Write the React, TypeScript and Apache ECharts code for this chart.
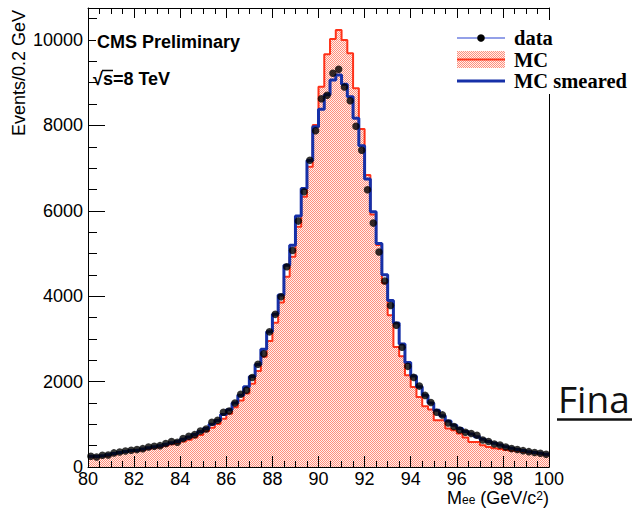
import React, { useEffect, useRef } from "react";
import * as echarts from "echarts";

// Histogram binning (GeV)
const X_MIN = 80;
const X_MAX = 100;
const BIN_WIDTH = 0.25;
const xTickStep = 2;
const yMax = 10750;
const yMajorStep = 2000;
const yMinorStep = 500;

// Data counts per bin (80 bins, 80..100 GeV)
const dataCounts = [
  251, 234, 274, 280, 330, 350, 376, 391, 407, 430,
  469, 485, 500, 548, 595, 579, 665, 719, 758, 844,
  891, 1050, 1094, 1282, 1313, 1500, 1704, 1800, 2095, 2407,
  2650, 3165, 3575, 3985, 4688, 5070, 5759, 6446, 7182, 7876,
  8626, 8706, 9221, 9315, 8900, 8579, 7979, 7420, 6493, 5712,
  5036, 4357, 3782, 3321, 2803, 2357, 2099, 1895, 1677, 1509,
  1282, 1220, 1031, 950, 868, 813, 783, 743, 634, 598,
  537, 517, 469, 431, 408, 383, 360, 340, 321, 298,
];

// MC (unsmeared) counts per bin
const mcCounts = [
  240, 235, 255, 270, 300, 325, 350, 370, 385, 400,
  425, 450, 470, 500, 530, 560, 600, 640, 690, 750,
  840, 920, 1010, 1130, 1250, 1400, 1560, 1720, 1950, 2250,
  2580, 2950, 3380, 3850, 4454, 4922, 5626, 6329, 7033, 8010,
  8907, 9667, 10025, 10236, 10002, 9690, 8870, 7916, 6838, 5916,
  5197, 4306, 3556, 2813, 2595, 2150, 1875, 1641, 1423, 1345,
  1095, 1095, 900, 860, 783, 690, 586, 586, 509, 469,
  440, 420, 400, 380, 365, 350, 335, 320, 305, 290,
];

// MC smeared counts per bin
const mcSmearedCounts = [
  250, 245, 265, 285, 315, 340, 365, 385, 400, 420,
  450, 475, 500, 535, 570, 600, 650, 700, 760, 830,
  900, 1000, 1090, 1230, 1340, 1500, 1680, 1880, 2120, 2400,
  2760, 3170, 3580, 4030, 4728, 5196, 5876, 6525, 7180, 7970,
  8378, 8720, 9065, 9182, 8963, 8673, 8166, 7524, 6744, 5977,
  5236, 4500, 3900, 3370, 2880, 2450, 2130, 1880, 1680, 1500,
  1330, 1200, 1080, 980, 900, 830, 770, 710, 650, 600,
  555, 515, 475, 440, 410, 385, 360, 340, 320, 300,
];

const legendLabels = ["data", "MC", "MC smeared"];
const yAxisTitle = "Events/0.2 GeV";

const RED = "#ff3219";
const BLUE = "#1630a8";
const FONT = "'Liberation Sans', Arial, Helvetica, sans-serif";
const SERIF = "'Liberation Serif', 'Times New Roman', serif";

function edgeSteps(counts: number[]): number[][] {
  const pts = counts.map((v, i) => [X_MIN + i * BIN_WIDTH, v]);
  pts.push([X_MAX, counts[counts.length - 1]]);
  return pts;
}

function centers(counts: number[]): number[][] {
  return counts.map((v, i) => [X_MIN + (i + 0.5) * BIN_WIDTH, v]);
}

function makeHatch(): any {
  try {
    const c = document.createElement("canvas");
    c.width = 4;
    c.height = 4;
    const ctx = c.getContext("2d");
    if (!ctx) return "#fbc2b7";
    ctx.fillStyle = "#fff0ec";
    ctx.fillRect(0, 0, 4, 4);
    ctx.fillStyle = "#ff8e7c";
    for (let y = 0; y < 4; y++)
      for (let x = 0; x < 4; x++) if ((x + y) % 2 === 0) ctx.fillRect(x, y, 1, 1);
    return { image: c.toDataURL(), repeat: "repeat", imageWidth: 4, imageHeight: 4 };
  } catch (e) {
    return "#fbc2b7";
  }
}

export default function App() {
  const ref = useRef<HTMLDivElement>(null);
  useEffect(() => {
    if (!ref.current) return;
    const chart = echarts.init(ref.current, undefined, { renderer: "svg" });
    const hatch = makeHatch();
    const axisCommon = {
      min: X_MIN,
      max: X_MAX,
      interval: xTickStep,
      type: "value",
      z: 5,
      splitLine: { show: false },
      minorSplitLine: { show: false },
      axisLine: { show: true, onZero: false, lineStyle: { color: "#000", width: 1 } },
    };
    const option: any = {
      animation: false,
      grid: { left: 88, right: 83, top: 8, bottom: 41, containLabel: false },
      xAxis: [
        {
          ...axisCommon,
          position: "bottom",
          axisTick: { show: true, inside: true, length: 11, lineStyle: { color: "#000" } },
          minorTick: { show: true, splitNumber: 4, length: 6, lineStyle: { color: "#000" } },
          axisLabel: { show: true, fontSize: 18, lineHeight: 14, fontFamily: FONT, color: "#000", margin: 5, formatter: (v: number) => String(v) },
        },
        {
          ...axisCommon,
          position: "top",
          axisTick: { show: true, inside: true, length: 10, lineStyle: { color: "#000" } },
          minorTick: { show: true, splitNumber: 4, length: 6, lineStyle: { color: "#000" } },
          axisLabel: { show: false },
        },
      ],
      yAxis: [
        {
          type: "value",
          position: "left",
          min: 0,
          max: yMax,
          interval: yMajorStep,
          z: 5,
          splitLine: { show: false },
          axisLine: { show: true, onZero: false, lineStyle: { color: "#000", width: 1 } },
          axisTick: { show: true, inside: true, length: 17, lineStyle: { color: "#000" } },
          axisLabel: {
            show: true,
            fontSize: 18,
            lineHeight: 12,
            fontFamily: FONT,
            color: "#000",
            margin: 5,
            showMaxLabel: false,
            formatter: (v: number) => String(v),
          },
        },
        {
          type: "value",
          position: "left",
          min: 0,
          max: yMax,
          interval: yMinorStep,
          z: 5,
          splitLine: { show: false },
          axisLine: { show: false, onZero: false },
          axisTick: { show: true, inside: true, length: 9, lineStyle: { color: "#000" } },
          axisLabel: { show: false },
        },
        {
          type: "value",
          position: "right",
          min: 0,
          max: yMax,
          z: 5,
          splitLine: { show: false },
          axisLine: { show: true, onZero: false, lineStyle: { color: "#000", width: 1 } },
          axisTick: { show: false },
          axisLabel: { show: false },
        },
      ],
      series: [
        {
          name: legendLabels[1],
          type: "line",
          step: "end",
          data: edgeSteps(mcCounts),
          symbol: "none",
          z: 2,
          lineStyle: { color: RED, width: 2 },
          areaStyle: { color: hatch, opacity: 1 },
        },
        {
          name: legendLabels[2],
          type: "line",
          step: "end",
          data: edgeSteps(mcSmearedCounts),
          symbol: "none",
          z: 3,
          lineStyle: { color: BLUE, width: 3 },
        },
        {
          name: legendLabels[0],
          type: "scatter",
          data: centers(dataCounts),
          symbol: "circle",
          symbolSize: 7.5,
          z: 4,
          itemStyle: { color: "#000" },
        },
      ],
      graphic: [
        // legend box covering the right frame line
        { type: "rect", z: 100, shape: { x: 543, y: 20, width: 12, height: 74 }, style: { fill: "#fff" } },
        { type: "line", z: 101, shape: { x1: 457, y1: 38, x2: 505, y2: 38 }, style: { stroke: "#6f80e0", lineWidth: 1.5 } },
        { type: "circle", z: 102, shape: { cx: 481, cy: 38, r: 3.8 }, style: { fill: "#000" } },
        { type: "rect", z: 101, shape: { x: 457, y: 51, width: 48, height: 17 }, style: { fill: hatch } },
        { type: "line", z: 102, shape: { x1: 457, y1: 59.5, x2: 505, y2: 59.5 }, style: { stroke: RED, lineWidth: 2 } },
        { type: "line", z: 101, shape: { x1: 457, y1: 81, x2: 505, y2: 81 }, style: { stroke: BLUE, lineWidth: 3 } },
        ...legendLabels.map((t, i) => ({
          type: "text",
          z: 102,
          x: 514,
          y: [38, 60, 81][i],
          style: {
            text: t,
            fontFamily: SERIF,
            fontWeight: "bold",
            fontSize: 20.5,
            lineHeight: 19,
            fill: "#000",
            align: "left",
            verticalAlign: "middle",
            textAlign: "left",
            textVerticalAlign: "middle",
          },
        })),
        {
          type: "text",
          z: 102,
          x: 96,
          y: 42,
          style: {
            text: "CMS Preliminary",
            fontFamily: FONT,
            fontWeight: "bold",
            fontSize: 18,
            fill: "#000",
            backgroundColor: "#fff",
            padding: [1, 1, 1, 1],
            align: "left",
            verticalAlign: "middle",
            textAlign: "left",
            textVerticalAlign: "middle",
          },
        },
        {
          type: "text",
          z: 102,
          x: 93,
          y: 79,
          style: { text: "√s=8 TeV", fontFamily: FONT, fontWeight: "bold", fontSize: 18, fill: "#000", align: "left", verticalAlign: "middle", textAlign: "left", textVerticalAlign: "middle" },
        },
        { type: "line", z: 102, shape: { x1: 102, y1: 70.5, x2: 113, y2: 70.5 }, style: { stroke: "#000", lineWidth: 1.5 } },
        {
          type: "text",
          z: 102,
          x: 19,
          y: 10,
          rotation: Math.PI / 2,
          style: { text: yAxisTitle, fontFamily: FONT, fontSize: 18, fill: "#000", align: "right", verticalAlign: "middle", textAlign: "right", textVerticalAlign: "middle" },
        },
        {
          type: "text",
          z: 102,
          x: 549,
          y: 498,
          style: {
            text: "{n|M}{sub|ee}{n| (GeV/c}{sup|2}{n|)}",
            fill: "#000",
            align: "right",
            verticalAlign: "middle",
            textAlign: "right",
            textVerticalAlign: "middle",
            rich: {
              n: { fontFamily: FONT, fontSize: 18, lineHeight: 16, verticalAlign: "middle", fill: "#000" },
              sub: { fontFamily: FONT, fontSize: 12, lineHeight: 16, verticalAlign: "bottom", fill: "#000" },
              sup: { fontFamily: FONT, fontSize: 12, lineHeight: 16, verticalAlign: "top", fill: "#000" },
            },
          },
        },
        {
          type: "text",
          z: 102,
          x: 558,
          y: 398,
          style: { text: "Fina", fontFamily: "'Open Sans', sans-serif", fontSize: 37, fill: "#111", align: "left", verticalAlign: "middle", textAlign: "left", textVerticalAlign: "middle" },
        },
        { type: "line", z: 102, shape: { x1: 557, y1: 419.5, x2: 632, y2: 419.5 }, style: { stroke: "#111", lineWidth: 2.5 } },
      ],
    };
    chart.setOption(option);
    return () => chart.dispose();
  }, []);
  return (
    <div
      ref={ref}
      style={{ position: "fixed", left: 0, top: 0, width: 632, height: 508, background: "#fff" }}
    />
  );
}
